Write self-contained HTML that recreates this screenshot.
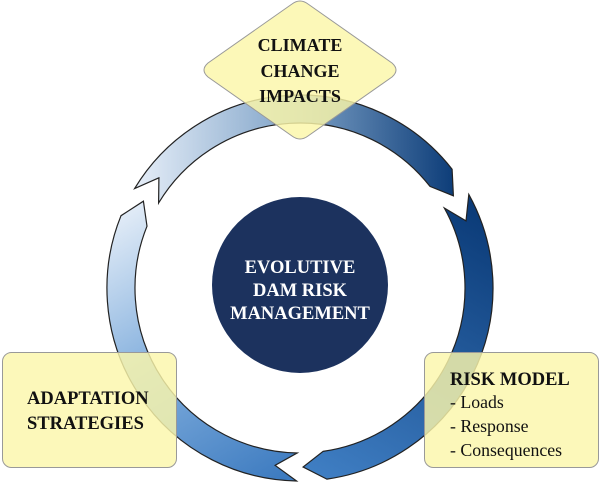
<!DOCTYPE html>
<html><head><meta charset="utf-8"><style>
html,body{margin:0;padding:0;background:#fff;}
svg{display:block;}
text{font-family:"Liberation Serif",serif;}
</style></head><body>
<svg width="600" height="482" viewBox="0 0 600 482" xmlns="http://www.w3.org/2000/svg">
<defs>
<linearGradient id="gA" gradientUnits="userSpaceOnUse" x1="135" y1="180" x2="455" y2="180">
<stop offset="0" stop-color="#e6eef8"/><stop offset="0.5" stop-color="#7fa3c8"/><stop offset="1" stop-color="#0c3c78"/></linearGradient>
<linearGradient id="gB" gradientUnits="userSpaceOnUse" x1="460" y1="200" x2="310" y2="470">
<stop offset="0" stop-color="#0b3b78"/><stop offset="1" stop-color="#3f7ec3"/></linearGradient>
<linearGradient id="gC" gradientUnits="userSpaceOnUse" x1="297" y1="470" x2="135" y2="205">
<stop offset="0" stop-color="#3d7bc0"/><stop offset="0.5" stop-color="#7eacdc"/><stop offset="1" stop-color="#e2ecf7"/></linearGradient>
</defs>
<g stroke="#222" stroke-width="1.2" stroke-linejoin="miter">
<path fill="url(#gA)" d="M134.6,188.6 A193,193 0 0 1 452.1,169.2 L453.4,195.8 L430.0,186.4 A165,165 0 0 0 158.6,203.0 L158.9,177.8 Z"/>
<path fill="url(#gB)" d="M468.8,194.4 A193,193 0 0 1 326.9,479.1 L303.1,467.0 L323.0,451.4 A165,165 0 0 0 444.3,208.0 L466.0,220.9 Z"/>
<path fill="url(#gC)" d="M296.6,481.0 A193,193 0 0 1 121.0,215.7 L143.4,201.2 L147.0,226.2 A165,165 0 0 0 297.1,453.0 L275.1,465.3 Z"/>
</g>
<circle cx="300" cy="285" r="88" fill="#1c325e"/>
<g fill="#fff" font-weight="bold" font-size="18.5" text-anchor="middle">
<text x="300" y="273">EVOLUTIVE</text>
<text x="300" y="296">DAM RISK</text>
<text x="300" y="319">MANAGEMENT</text>
</g>
<path d="M292,4 Q300,-2 308,4 L392,63 Q400,70 392,77 L308,136 Q300,142 292,136 L208,77 Q200,70 208,63 Z" fill="#fbf6a8" fill-opacity="0.82" stroke="#999" stroke-width="1"/>
<g fill="#111" font-weight="bold" font-size="18" text-anchor="middle">
<text x="300" y="51">CLIMATE</text>
<text x="300" y="77">CHANGE</text>
<text x="300" y="102">IMPACTS</text>
</g>
<rect x="2.5" y="352.5" width="174" height="115" rx="9" fill="#fbf6ab" fill-opacity="0.82" stroke="#999"/>
<rect x="424.5" y="352.5" width="174" height="115" rx="9" fill="#fbf6ab" fill-opacity="0.82" stroke="#999"/>
<g fill="#111" font-weight="bold" font-size="18.5">
<text x="27" y="404">ADAPTATION</text>
<text x="27" y="429">STRATEGIES</text>
<text x="450" y="385">RISK MODEL</text>
</g>
<g fill="#111" font-size="17.8">
<text x="450" y="408">- Loads</text>
<text x="450" y="432">- Response</text>
<text x="450" y="456">- Consequences</text>
</g>
</svg>
</body></html>
